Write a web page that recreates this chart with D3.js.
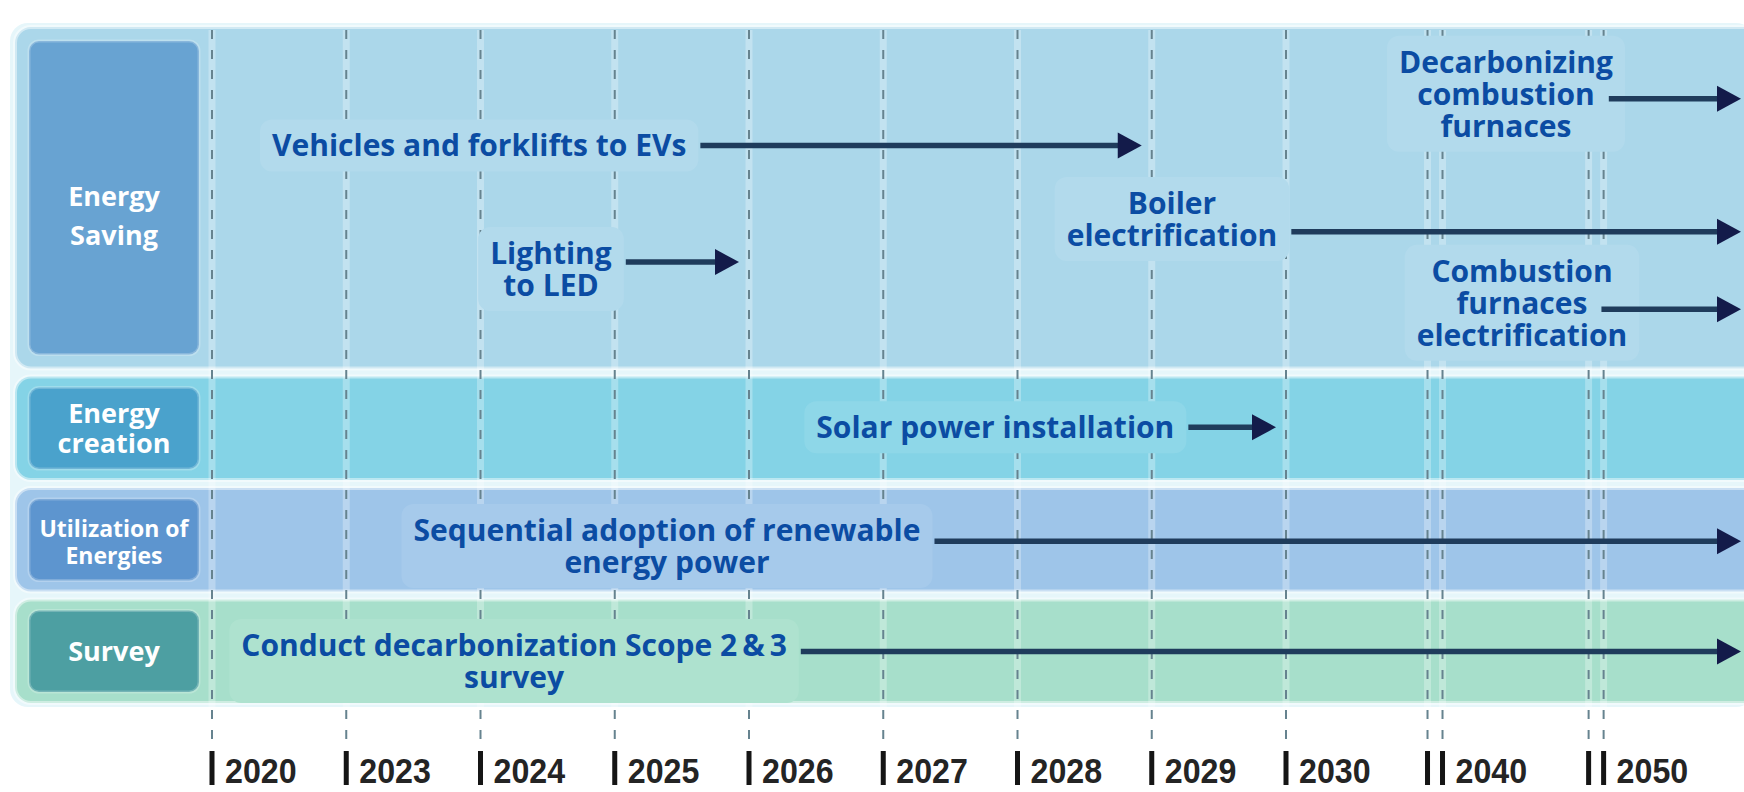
<!DOCTYPE html>
<html><head><meta charset="utf-8">
<script src="https://cdn.jsdelivr.net/npm/d3@7"></script>
<style>html,body{margin:0;padding:0;background:#fff;} svg{display:block}</style>
</head><body><svg id="c" width="1744" height="792"></svg>
<script>
// ---------- DATA ----------
const years = ["2020","2023","2024","2025","2026","2027","2028","2029","2030","2040","2050"];
// position of each year along the (non-uniform) timeline, in timeline slots
const yearSlots = [0,1,2,3,4,5,6,7,8,9.11,10.31];
const brokenYears = ["2040","2050"];          // axis breaks drawn as double lines
const categories = ["Energy Saving","Energy creation","Utilization of Energies","Survey"];
const categoryLines = [["Energy","Saving"],["Energy","creation"],["Utilization of","Energies"],["Survey"]];
const taskNames = [
  "Vehicles and forklifts to EVs",
  "Lighting to LED",
  "Boiler electrification",
  "Decarbonizing combustion furnaces",
  "Combustion furnaces electrification",
  "Solar power installation",
  "Sequential adoption of renewable energy power",
  "Conduct decarbonization Scope 2 & 3 survey"
];
const taskLines = [
  ["Vehicles and forklifts to EVs"],
  ["Lighting","to LED"],
  ["Boiler","electrification"],
  ["Decarbonizing","combustion","furnaces"],
  ["Combustion","furnaces","electrification"],
  ["Solar power installation"],
  ["Sequential adoption of renewable","energy power"],
  ["Conduct decarbonization Scope 2\u2009&\u20093","survey"]
];
const taskCategory = [0,0,0,0,0,1,2,3];
const taskEnd = ["2029","2026","2050+","2050+","2050+","2030","2050+","2050+"];

// ---------- LAYOUT (not data) ----------
const W = 1744, H = 792;
const rowUnits = [3.3,1,1,1];
const rowTop0 = 27, rowGap = 8, unit = 103.5;
const labelSlot = [1.99, 2.525, 7.151, 9.639, 9.758, 5.835, 3.389, 2.25];
const labelRowFrac = [0.347, 0.662, 0.515, 0.102, 0.714, 0.49, 0.406, 0.44];
const arrowLineOffset = [0, 0.28, 0.9, 1.15, 1.2, 0, 0.35, 0.2];
const panelFill = ["#abd7ea","#84d3e6","#9ec5e9","#a7dfcb"];
const labelFill = ["#68a3d2","#4aa2cc","#5d95cf","#4d9fa2"];
const catFont = [27,27,23,27];
const catLineGap = [39,30,27,30];
const catShift = [18,0,2,0];
const lineH = 32, taskFont = 30;

const svg = d3.select("#c");
const x = d3.scaleLinear().domain([0,8]).range([212,1286]);
const slotOf = Object.fromEntries(years.map((y,i)=>[y,yearSlots[i]]));

const rowTop = [], rowH = [];
{ let acc = rowTop0; rowUnits.forEach(u=>{ rowTop.push(acc); rowH.push(u*unit); acc += u*unit + rowGap; }); }
const panelsBottom = rowTop[3] + rowH[3];

// background behind panels (light gaps)
svg.append("rect").attr("x",10).attr("y",rowTop0-4).attr("width",W).attr("height",panelsBottom-rowTop0+8)
  .attr("rx",18).attr("fill","#e6f6fa");

// panels
svg.selectAll("rect.panel").data(categories).join("rect").attr("class","panel")
  .attr("x",15).attr("y",(d,i)=>rowTop[i]).attr("width",W).attr("height",(d,i)=>rowH[i])
  .attr("rx",16).attr("fill",(d,i)=>panelFill[i])
  .attr("stroke","rgba(255,255,255,0.45)").attr("stroke-width",4);

// category label boxes
const inset = i => i===0 ? 14 : 11;
svg.selectAll("rect.cat").data(categories).join("rect").attr("class","cat")
  .attr("x",29).attr("y",(d,i)=>rowTop[i]+inset(i)).attr("width",170).attr("height",(d,i)=>rowH[i]-2*inset(i))
  .attr("rx",10).attr("fill",(d,i)=>labelFill[i])
  .attr("stroke","rgba(255,255,255,0.22)").attr("stroke-width",3);

categories.forEach((c,i)=>{
  const lines = categoryLines[i];
  const cy = rowTop[i] + rowH[i]/2 + catShift[i];
  const t = svg.append("text").attr("text-anchor","middle")
    .attr("font-family","'Open Sans', sans-serif").attr("font-weight",700)
    .attr("font-size",catFont[i]).attr("fill","#fff");
  lines.forEach((l,k)=>{
    const ly = cy + (k-(lines.length-1)/2)*catLineGap[i] + 0.357*catFont[i];
    t.append("tspan").attr("x",114).attr("y",ly).text(l);
  });
});

// year grid lines (dashed)
const gridX = [];
years.forEach((y,i)=>{
  const cx = x(yearSlots[i]);
  if (brokenYears.includes(y)) { gridX.push({y, xs:[cx-7.5, cx+7.5]}); }
  else gridX.push({y, xs:[cx]});
});
const allLines = gridX.flatMap(g=>g.xs);
svg.selectAll("line.halo").data(allLines).join("line").attr("class","halo")
  .attr("x1",d=>d).attr("x2",d=>d).attr("y1",30).attr("y2",745)
  .attr("stroke","#ffffff").attr("stroke-opacity",0.28).attr("stroke-width",7);
svg.selectAll("line.grid").data(allLines).join("line").attr("class","grid")
  .attr("x1",d=>d).attr("x2",d=>d).attr("y1",30).attr("y2",745)
  .attr("stroke","#66838f").attr("stroke-width",2).attr("stroke-dasharray","9,11");

// axis ticks
gridX.forEach(g=>{
  g.xs.forEach(px=>{
    svg.append("rect").attr("x",px-2.5).attr("y",751).attr("width",5).attr("height",34).attr("fill","#151515");
  });
  const tx = g.xs[g.xs.length-1]+13;
  svg.append("text").attr("transform",`translate(${tx},783) scale(0.92,1)`)
    .attr("font-family","'Liberation Sans', Arial, sans-serif")
    .attr("font-weight",700).attr("font-size",35)
    .attr("fill","#242424").text(g.y);
});

// tasks
const arrowsLayer = svg.append("g");
taskNames.forEach((name,i)=>{
  const r = taskCategory[i];
  const cx = x(labelSlot[i]);
  const fy = rowTop[r] + labelRowFrac[i]*rowH[r];
  const lines = taskLines[i];
  const g = svg.append("g");
  const box = g.append("rect");
  const t = g.append("text").attr("text-anchor","middle").attr("font-family","'Open Sans', sans-serif")
      .attr("font-weight",700).attr("font-size",taskFont).attr("fill","#0b4ca3");
  const widths = [];
  lines.forEach((l,k)=>{
    const ts = t.append("tspan").attr("x",cx).attr("y",fy + k*lineH + 0.357*taskFont).text(l);
    widths.push(ts.node().getComputedTextLength());
  });
  const maxW = d3.max(widths);
  const bg = d3.interpolateRgb(panelFill[r], "#ffffff")(0.08);
  box.attr("x",cx-maxW/2-12).attr("y",fy-26).attr("width",maxW+24).attr("height",(lines.length-1)*lineH+52)
    .attr("rx",12).attr("fill",bg);
  // arrow
  const k = Math.min(lines.length-1, Math.round(arrowLineOffset[i]));
  const start = cx + widths[k]/2 + 14;
  const ay = fy + arrowLineOffset[i]*lineH;
  const tip = taskEnd[i]==="2050+" ? W-3 : x(slotOf[taskEnd[i]]) - 10;
  arrowsLayer.append("line").attr("x1",start).attr("x2",tip-18).attr("y1",ay).attr("y2",ay)
    .attr("stroke","#1f3c5c").attr("stroke-width",5.5);
  arrowsLayer.append("path").attr("d",`M${tip-24},${ay-13}L${tip},${ay}L${tip-24},${ay+13}Z`).attr("fill","#131b4a");
});
arrowsLayer.raise();
</script></body></html>
